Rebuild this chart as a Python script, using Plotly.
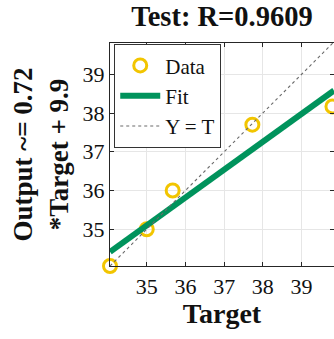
import plotly.graph_objects as go

# Test-set targets and network outputs
target = [34.05, 35.0, 35.67, 37.73, 39.8]
output = [34.05, 35.0, 36.0, 37.70, 38.17]

# Linear fit reported in the axis label
slope = 0.72
intercept = 9.9

x_range = [34.05, 39.84]
y_range = [34.05, 39.81]
tick_vals = [35, 36, 37, 38, 39]
tick_text = ["35", "36", "37", "38", "39"]

fit_x = x_range
fit_y = [slope * v + intercept for v in fit_x]

serif = "Liberation Serif, Times New Roman, serif"
axis_color = "#262626"

fig = go.Figure()
fig.add_trace(go.Scatter(
    x=target, y=output, mode="markers", name="Data",
    marker=dict(symbol="circle-open", size=13, color="#F2C500",
                line=dict(width=3, color="#F2C500")),
    cliponaxis=False,
))
fig.add_trace(go.Scatter(
    x=fit_x, y=fit_y, mode="lines", name="Fit",
    line=dict(color="#00935C", width=6),
))
fig.add_trace(go.Scatter(
    x=x_range, y=x_range, mode="lines", name="Y = T",
    line=dict(color="#6a6a6a", width=1.1, dash="dot"),
))

axis_common = dict(
    tickvals=tick_vals, ticktext=tick_text,
    showgrid=True, gridcolor="#e6e6e6", gridwidth=1,
    zeroline=False,
    showline=True, linecolor=axis_color, linewidth=1.2, mirror="ticks",
    ticks="inside", ticklen=4, tickcolor=axis_color,
    tickfont=dict(family=serif, size=22, color="#111111"),
)

fig.update_layout(
    width=334, height=339,
    margin=dict(l=110, r=0, t=43, b=73),
    paper_bgcolor="white", plot_bgcolor="white",
    title=dict(
        text="<b>Test: R=0.9609</b>",
        font=dict(family=serif, size=28.5, color="#111111"),
        x=0.5, xref="paper", xanchor="center",
        y=1, yref="container", yanchor="top", pad=dict(t=6),
    ),
    xaxis=dict(
        range=x_range,
        title=dict(text="<b>Target</b>", font=dict(family=serif, size=28, color="#111111"),
                   standoff=4),
        **axis_common,
    ),
    yaxis=dict(
        range=y_range,
        title=dict(text="<b>Output ~= 0.72<br>*Target + 9.9</b>",
                   font=dict(family=serif, size=27, color="#111111"), standoff=6),
        **axis_common,
    ),
    legend=dict(
        x=0.018, y=0.995, xanchor="left", yanchor="top",
        bgcolor="white", bordercolor="#333333", borderwidth=1.2,
        font=dict(family=serif, size=21, color="#111111"),
        tracegroupgap=0, itemwidth=40,
    ),
    showlegend=True,
)

fig.write_html("out.html")
